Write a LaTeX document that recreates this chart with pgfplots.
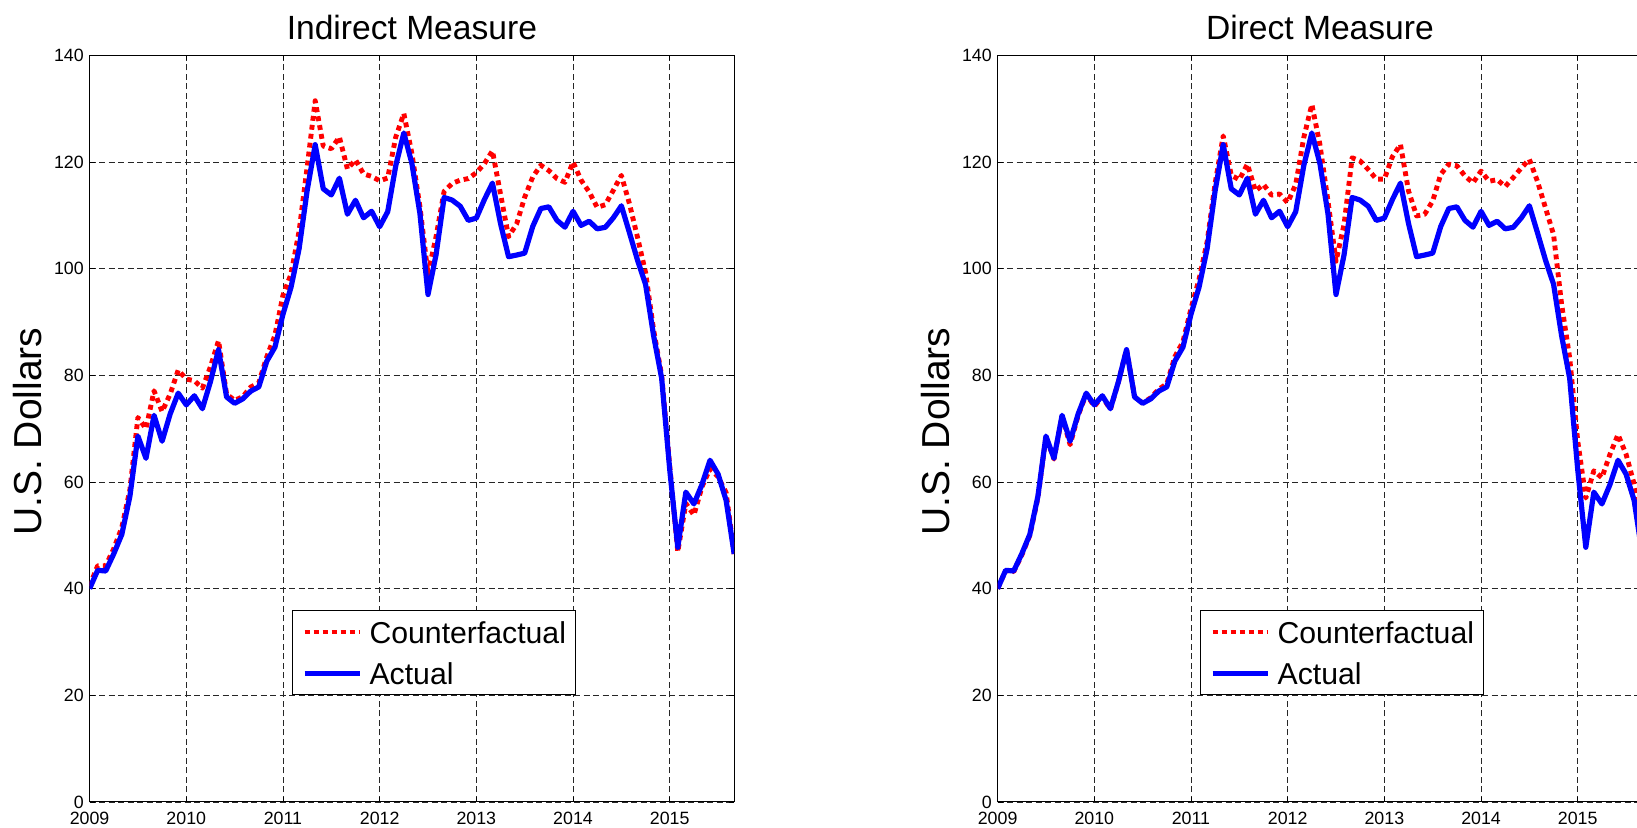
\documentclass[border=0pt]{standalone}
\usepackage{fontspec}
\setmainfont{Liberation Sans}
\usepackage{pgfplots}
\usepackage{pgfplotstable}
\pgfplotsset{compat=1.18}

% m = months after Dec 2008 (x = 2009 + m/12)
\pgfplotstableread{
m actual cfI cfD
0 40.00 40.5 40.0
1 43.44 44.3 43.4
2 43.32 44.3 43.2
3 46.54 47.5 46.3
4 50.18 51.5 50.0
5 57.30 58.5 57.0
6 68.61 72.1 68.5
7 64.44 70.0 64.3
8 72.51 77.1 72.3
9 67.65 73.2 67.0
10 72.77 76.5 72.5
11 76.66 81.0 76.5
12 74.46 79.3 74.2
13 76.17 79.0 76.0
14 73.75 77.6 73.6
15 78.83 81.6 78.8
16 84.82 86.5 84.9
17 75.95 76.5 76.0
18 74.76 75.3 74.8
19 75.58 76.0 75.8
20 77.04 77.8 77.4
21 77.84 78.6 78.4
22 82.67 83.5 83.5
23 85.28 87.5 86.3
24 91.45 95.0 92.5
25 96.52 99.0 98.0
26 103.72 107.0 105.0
27 114.64 119.0 116.0
28 123.26 131.5 124.9
29 114.99 123.0 117.5
30 113.83 122.5 116.7
31 116.97 124.7 119.6
32 110.22 118.7 114.6
33 112.83 120.4 115.8
34 109.55 117.8 113.8
35 110.77 117.3 114.0
36 107.87 116.5 112.4
37 110.69 117.0 115.8
38 119.33 124.7 124.6
39 125.45 129.1 130.8
40 119.75 121.6 123.3
41 110.34 111.6 112.7
42 95.16 99.0 101.4
43 102.62 106.0 108.3
44 113.36 114.5 120.8
45 112.86 116.0 120.2
46 111.71 116.6 118.6
47 109.06 116.9 116.8
48 109.49 118.0 116.8
49 112.96 119.7 121.0
50 116.05 122.1 123.3
51 108.47 114.0 114.6
52 102.25 106.0 109.9
53 102.56 108.4 110.2
54 102.92 113.4 112.7
55 107.93 117.2 117.7
56 111.28 119.4 119.6
57 111.60 118.4 119.3
58 109.08 116.9 117.4
59 107.79 116.2 116.1
60 110.76 120.0 118.3
61 108.12 116.6 116.4
62 108.90 114.4 116.7
63 107.48 111.5 115.4
64 107.76 112.0 117.1
65 109.54 114.7 118.9
66 111.80 117.5 120.5
67 106.77 112.2 116.4
68 101.61 105.9 111.4
69 97.09 99.3 106.4
70 87.43 88.5 93.3
71 79.44 80.0 83.3
72 62.34 63.0 67.7
73 47.76 46.9 57.0
74 58.10 56.0 62.1
75 55.89 53.8 60.8
76 59.52 59.1 65.2
77 64.08 62.5 68.9
78 61.48 61.0 65.2
79 56.56 58.0 59.6
80 46.52 46.5 52.0
}\oildata

\pgfplotsset{
  /pgf/number format/1000 sep={},
  every axis title/.style={at={(axis description cs:0.5,1)}, anchor=base, yshift=7.85pt, font=\fontsize{16.8}{19}\selectfont},
  every axis y label/.style={at={(axis description cs:-0.0956,0.496)}, rotate=90, anchor=center, font=\fontsize{19.5}{22}\selectfont},
  panel/.style={
    scale only axis, width=322.3pt, height=373.3pt,
    xmin=2009, xmax=2015.6667, ymin=0, ymax=140,
    xtick={2009,2010,2011,2012,2013,2014,2015},
    ytick={0,20,40,60,80,100,120,140},
    /pgf/number format/assume math mode=true,
    ticklabel style={font=\fontsize{8.9}{10}\selectfont},
    xticklabel style={yshift=-1.5pt},
    yticklabel style={xshift=0.6pt},
    grid=major,
    major grid style={black!85, line width=0.4pt, dash pattern=on 3pt off 1.75pt},
    tick align=inside, major tick length=2.5pt,
    tick style={black, line width=0.4pt},
    axis line style={black, line width=0.5pt},
    ylabel={U.S. Dollars},
    legend style={at={(axis description cs:0.314,0.1436)}, anchor=south west,
      font=\fontsize{15.1}{18}\selectfont, draw=black, line width=0.5pt,
      inner xsep=4.8pt, inner ysep=3.35pt, row sep=6.2pt, column sep=3.45pt,
      nodes={inner sep=0pt, text height=13pt, text depth=1.4pt},
      cells={anchor=west}},
    legend image code/.code={\draw[##1, line cap=butt] (0pt,0pt) -- (27.7pt,0pt);},
  },
  cfstyle/.style={red, line width=2.45pt, dash pattern=on 2.45pt off 2.05pt, line cap=butt, line join=round},
  acstyle/.style={blue, line width=2.6pt, line join=round},
}

\begin{document}
\begin{tikzpicture}
\begin{axis}[panel, at={(44.8pt,13pt)}, anchor=south west, title={Indirect Measure}]
\addplot[cfstyle] table[x expr=2009+\thisrow{m}/12, y=cfI] {\oildata};
\addlegendentry{Counterfactual}
\addplot[acstyle] table[x expr=2009+\thisrow{m}/12, y=actual] {\oildata};
\addlegendentry{Actual}
\end{axis}
\begin{axis}[panel, at={(498.8pt,13pt)}, anchor=south west, title={Direct Measure}]
\addplot[cfstyle] table[x expr=2009+\thisrow{m}/12, y=cfD] {\oildata};
\addlegendentry{Counterfactual}
\addplot[acstyle] table[x expr=2009+\thisrow{m}/12, y=actual] {\oildata};
\addlegendentry{Actual}
\end{axis}
\pgfresetboundingbox
\useasboundingbox (0,0) rectangle (818.5pt,414pt);
\end{tikzpicture}
\end{document}
